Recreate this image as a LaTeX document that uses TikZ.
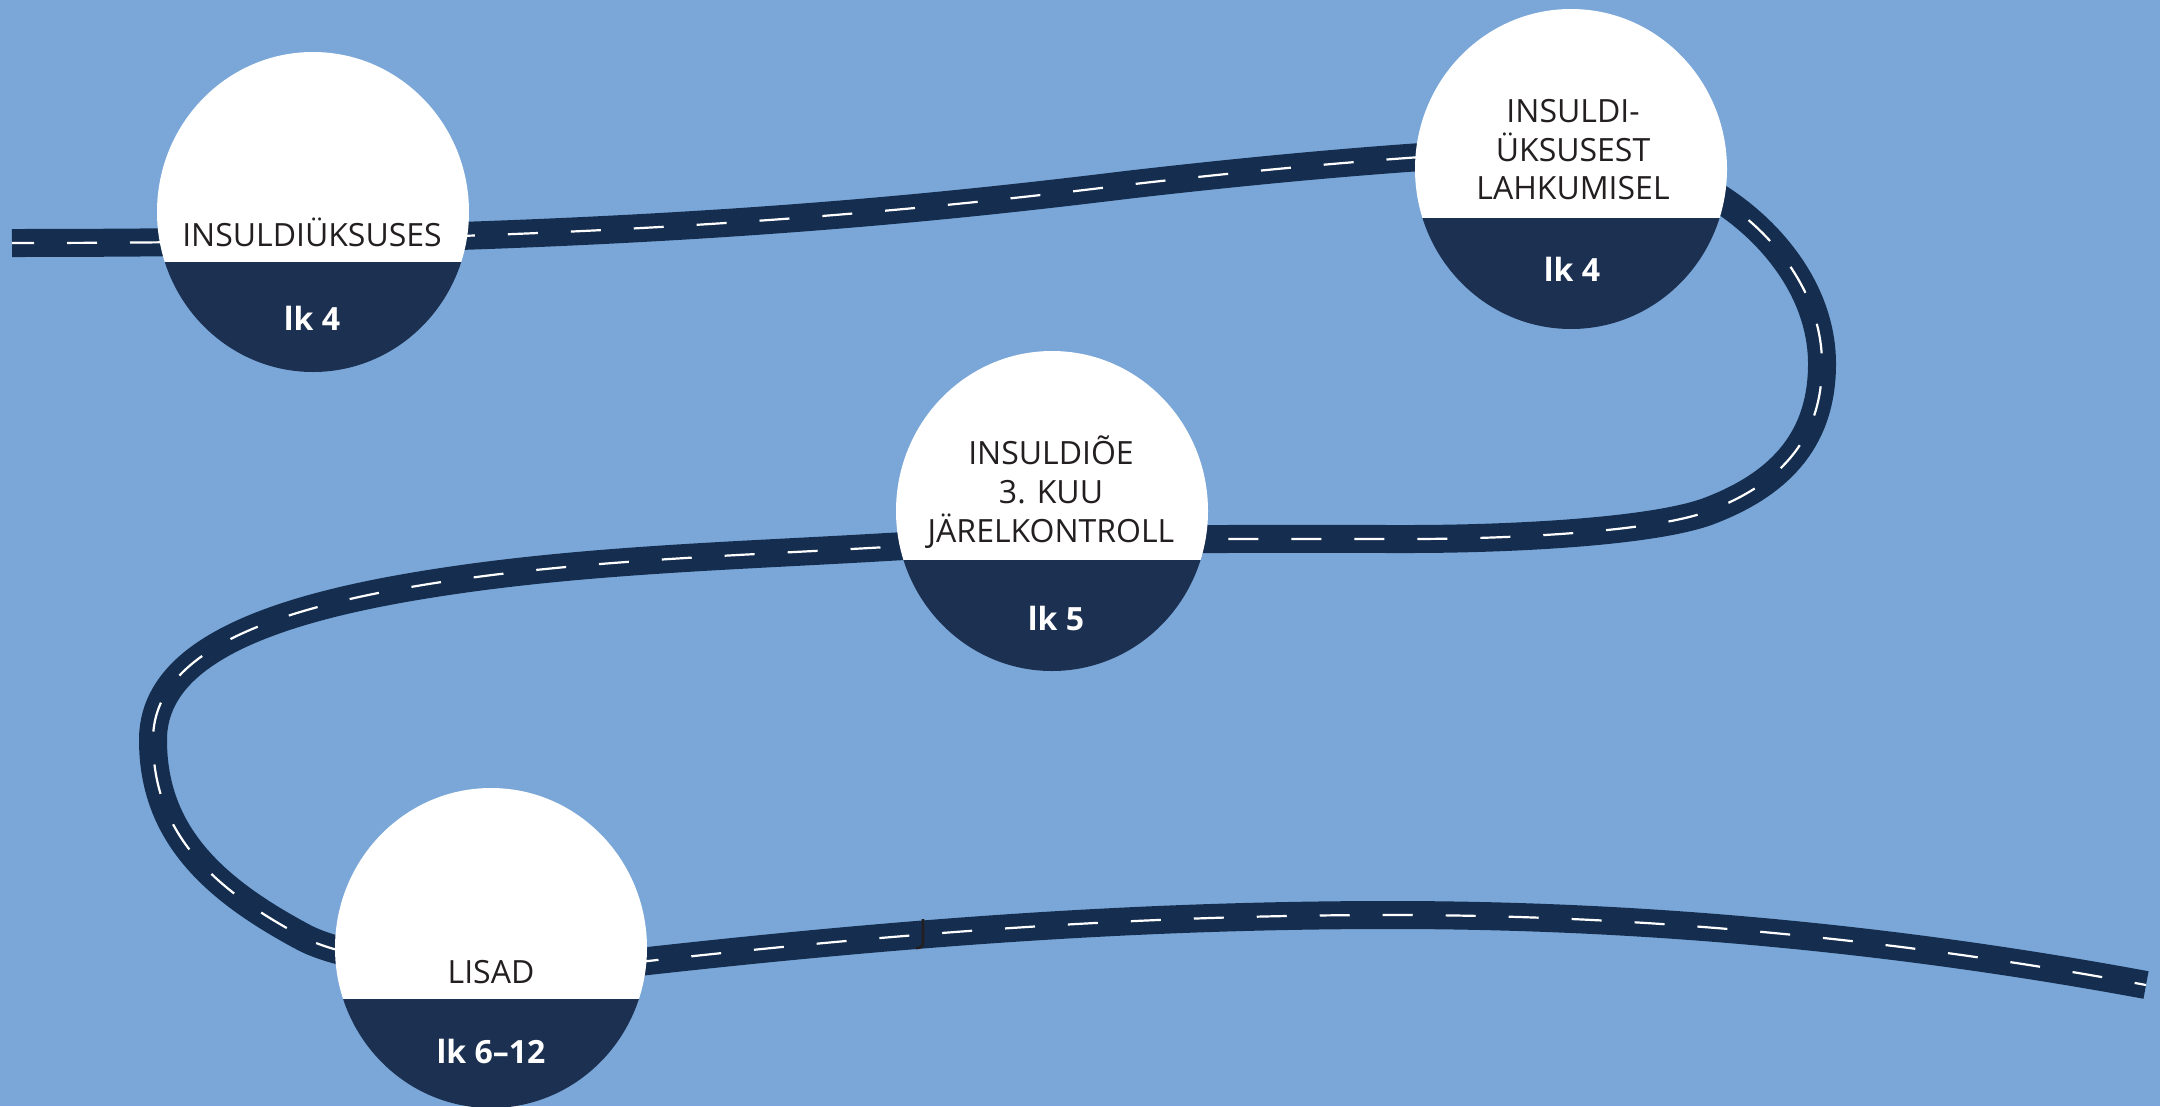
\documentclass[tikz,border=0pt]{standalone}
\usepackage{fontspec}
\setmainfont{Open Sans}
\definecolor{bg}{HTML}{7AA7D8}
\definecolor{roadc}{HTML}{152E50}
\definecolor{disc}{HTML}{1C3051}
\definecolor{txt}{HTML}{231F20}
\begin{document}
\begin{tikzpicture}[x=1pt,y=-1pt,
  roadbed/.style={line width=28pt, draw=roadc},
  roadmark/.style={line width=2.2pt, draw=white, dash pattern=on 30pt off 33pt, dash phase=8pt},
  title/.style={font=\fontsize{32}{38}\selectfont, text=txt, anchor=base, inner sep=0pt},
  pagelbl/.style={font=\fontsize{32}{38}\selectfont\bfseries, text=white, anchor=center, inner sep=0pt},
]
\fill[bg] (0,0) rectangle (2160,1106);
\useasboundingbox (0,0) rectangle (2160,1106);

% road
\def\roadpath{(12,243) .. controls (600,243) and (900,212.6) .. (1130,184.5)
 .. controls (1227,173.4) and (1324,163.8) .. (1421,157)
 .. controls (1521,150) and (1634,140) .. (1725,202)
 .. controls (1775,236) and (1822,294) .. (1822,364)
 .. controls (1822,444) and (1774.5,486) .. (1709,511)
 .. controls (1653,532) and (1509,539) .. (1409,539)
 .. controls (1250,539) and (1050,537.5) .. (887,547)
 .. controls (727,556.4) and (562.6,560.3) .. (405,588)
 .. controls (237.5,617.4) and (153,665) .. (153,740)
 .. controls (153,835) and (214.9,889.8) .. (303,937)
 .. controls (373.5,974.8) and (568.5,969.8) .. (648,961)
 .. controls (906,932.4) and (1141,915) .. (1391,915)
 .. controls (1642,915) and (1894,938.3) .. (2146,985)}
\draw[roadbed] \roadpath;
\draw[roadmark] \roadpath;

% stray mark
\draw[txt, line width=2.6pt] (923,919) -- (923,942) .. controls (923,947) and (920,948) .. (916,948);

% discs
\foreach \cx/\cy/\dv in {313/212/262, 1571/169/218, 1052/511/560, 491/948/999} {
  \begin{scope}
    \clip (\cx,\cy) ellipse [x radius=156, y radius=160];
    \fill[white] (\cx-170,\cy-170) rectangle (\cx+170,\dv);
    \fill[disc] (\cx-170,\dv) rectangle (\cx+170,\cy+170);
  \end{scope}
}
\coordinate (c1) at (313,212);
\coordinate (c2) at (1571,169);
\coordinate (c3) at (1052,511);
\coordinate (c4) at (491,948);

% texts
\node[title] (t1) at (312,246) {INSULDIÜKSUSES};
\node[pagelbl] (p1) at (312,318) {lk 4};

\node[title] (t2a) at (1573,122) {INSULDI-};
\node[title] (t2b) at (1573,161) {ÜKSUSEST};
\node[title] (t2c) at (1573,199) {LAHKUMISEL};
\node[pagelbl] (p2) at (1572,269) {lk 4};

\node[title] (t3a) at (1051,464) {INSULDIÕE};
\node[title] (t3b) at (1051,503) {3. KUU};
\node[title] (t3c) at (1051,542) {JÄRELKONTROLL};
\node[pagelbl] (p3) at (1056,618) {lk 5};

\node[title] (t4) at (491,983) {LISAD};
\node[pagelbl] (p4) at (491,1051) {lk 6–12};
\end{tikzpicture}
\end{document}
